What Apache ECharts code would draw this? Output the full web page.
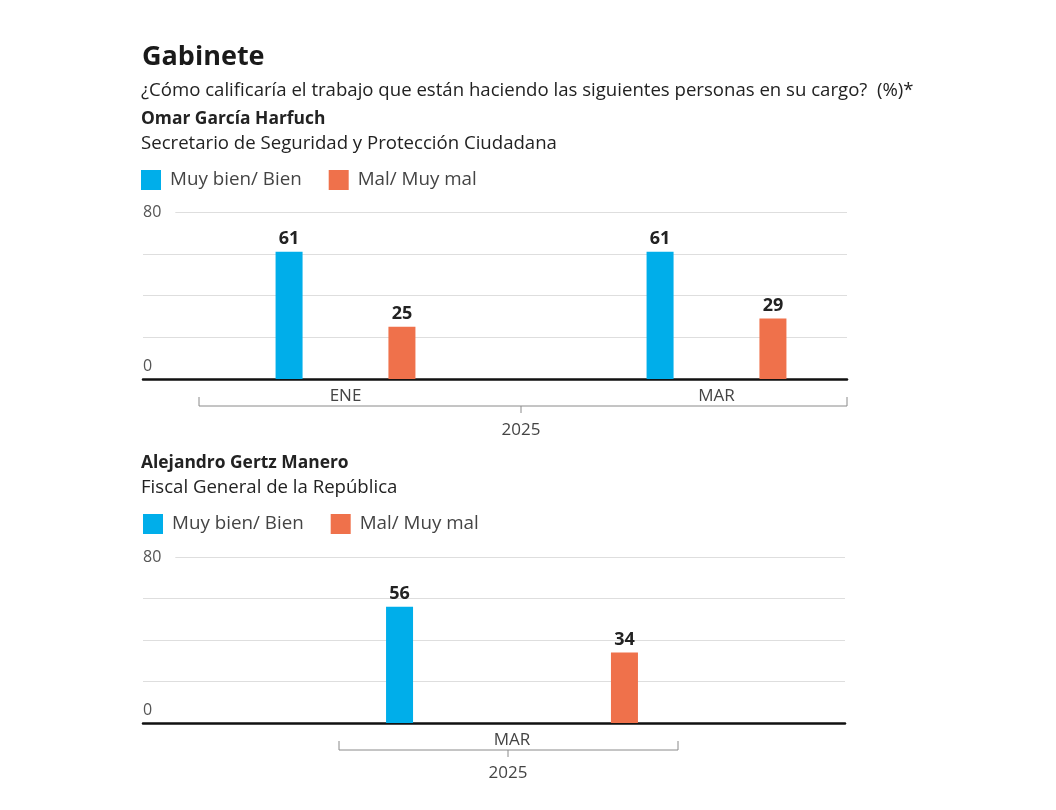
<!DOCTYPE html>
<html>
<head>
<meta charset="utf-8">
<script src="https://cdn.jsdelivr.net/npm/echarts@6/dist/echarts.min.js"></script>
<style>
  html, body { margin: 0; padding: 0; background: #fff; }
  #chart { width: 1056px; height: 810px; }
</style>
</head>
<body>
<div id="chart"></div>
<script>
const FONT = '"Open Sans", "Noto Sans", sans-serif';

const seriesNames = ['Muy bien/ Bien', 'Mal/ Muy mal'];
const colors = ['#00aeea', '#ef714b'];

const harfuchMonths = ['ENE', 'MAR'];
const harfuchGood = [61, 61];
const harfuchBad = [25, 29];

const gertzMonths = ['MAR'];
const gertzGood = [56];
const gertzBad = [34];

const yTicks = [0, 80];
const yearLabel = '2025';

const chart = echarts.init(document.getElementById('chart'));

function yAxisFor(gridIndex, show) {
  return {
    type: 'value', gridIndex: gridIndex, min: 0, max: 80, interval: 20,
    show: show,
    axisLine: { show: false }, axisTick: { show: false },
    splitLine: { show: show, lineStyle: { color: '#dedede', width: 1 } },
    axisLabel: {
      show: show, inside: true, margin: 0,
      formatter: function (v) {
        if (v === yTicks[1]) return '{a|' + v + '}';
        if (v === yTicks[0]) return '{b|' + v + '}';
        return '';
      },
      rich: {
        a: { fontFamily: FONT, fontSize: 16, color: '#555', backgroundColor: '#fff', padding: [0, 14, 0, 0] },
        b: { fontFamily: FONT, fontSize: 16, color: '#555', padding: [0, 0, 25, 0] }
      }
    }
  };
}

function baseAxis(gridIndex) {
  return {
    type: 'category', gridIndex: gridIndex, data: [''],
    axisLine: { show: true, lineStyle: { color: '#111', width: 2.5 } },
    axisTick: { show: false }, axisLabel: { show: false }
  };
}

function catAxis(gridIndex, data) {
  return {
    type: 'category', gridIndex: gridIndex, data: data,
    axisLine: { show: false }, axisTick: { show: false },
    axisLabel: { fontFamily: FONT, fontSize: 17, color: '#444', margin: 9 }
  };
}

function bars(name, data, xi, yi, color, gap) {
  return {
    name: name, type: 'bar', xAxisIndex: xi, yAxisIndex: yi, data: data,
    barWidth: 27, barGap: gap,
    itemStyle: { color: color },
    label: { show: true, position: 'top', distance: 4, fontFamily: FONT, fontSize: 18, fontWeight: 'bold', color: '#222' }
  };
}

const textStyleN = { fontFamily: FONT, fontSize: 18.6, color: '#222', fontWeight: 'normal' };
const textStyleB = { fontFamily: FONT, fontSize: 17.4, color: '#222', fontWeight: 'bold' };

const legendBase = {
  data: seriesNames, icon: 'rect', itemWidth: 20, itemHeight: 20, itemGap: 27,
  textStyle: { fontFamily: FONT, fontSize: 18.8, color: '#444', padding: [0, 0, 0, 4] }, selectedMode: false
};

const bracketStyle = { stroke: '#8a8a8a', lineWidth: 1, fill: null };

const option = {
  backgroundColor: '#fff',
  animation: false,
  title: [
    { text: 'Gabinete', left: 137, top: 39, textStyle: { fontFamily: FONT, fontSize: 27, fontWeight: 'bold', color: '#1a1a1a' } },
    { text: '¿Cómo calificaría el trabajo que están haciendo las siguientes personas en su cargo?  (%)*', left: 136, top: 76, textStyle: textStyleN },
    { text: 'Omar García Harfuch', left: 136, top: 106, textStyle: textStyleB },
    { text: 'Secretario de Seguridad y Protección Ciudadana', left: 136, top: 129, textStyle: textStyleN },
    { text: 'Alejandro Gertz Manero', left: 136, top: 450, textStyle: textStyleB },
    { text: 'Fiscal General de la República', left: 136, top: 473, textStyle: textStyleN }
  ],
  legend: [
    Object.assign({ left: 136, top: 165 }, legendBase),
    Object.assign({ left: 138, top: 509 }, legendBase)
  ],
  grid: [
    { left: 143, right: 209, top: 212, bottom: 431 },
    { left: 160, right: 154, top: 212, bottom: 431 },
    { left: 143, right: 211, top: 557, bottom: 87 },
    { left: 300, right: 332, top: 557, bottom: 87 }
  ],
  xAxis: [
    baseAxis(0),
    catAxis(1, harfuchMonths),
    baseAxis(2),
    catAxis(3, gertzMonths)
  ],
  yAxis: [
    yAxisFor(0, true),
    yAxisFor(1, false),
    yAxisFor(2, true),
    yAxisFor(3, false)
  ],
  series: [
    bars(seriesNames[0], harfuchGood, 1, 1, colors[0], '318%'),
    bars(seriesNames[1], harfuchBad, 1, 1, colors[1], '318%'),
    bars(seriesNames[0], gertzGood, 3, 3, colors[0], '733%'),
    bars(seriesNames[1], gertzBad, 3, 3, colors[1], '733%')
  ],
  graphic: [
    { type: 'polyline', shape: { points: [[199, 397], [199, 406], [847, 406], [847, 397]] }, style: bracketStyle },
    { type: 'line', shape: { x1: 521, y1: 406, x2: 521, y2: 413 }, style: bracketStyle },
    { type: 'text', style: { text: yearLabel, x: 521, y: 430, align: 'center', verticalAlign: 'middle', fontFamily: FONT, fontSize: 17, fill: '#444' } },
    { type: 'polyline', shape: { points: [[339, 741], [339, 750], [678, 750], [678, 741]] }, style: bracketStyle },
    { type: 'line', shape: { x1: 508, y1: 750, x2: 508, y2: 757 }, style: bracketStyle },
    { type: 'text', style: { text: yearLabel, x: 508, y: 773, align: 'center', verticalAlign: 'middle', fontFamily: FONT, fontSize: 17, fill: '#444' } }
  ]
};

chart.setOption(option);
</script>
</body>
</html>
